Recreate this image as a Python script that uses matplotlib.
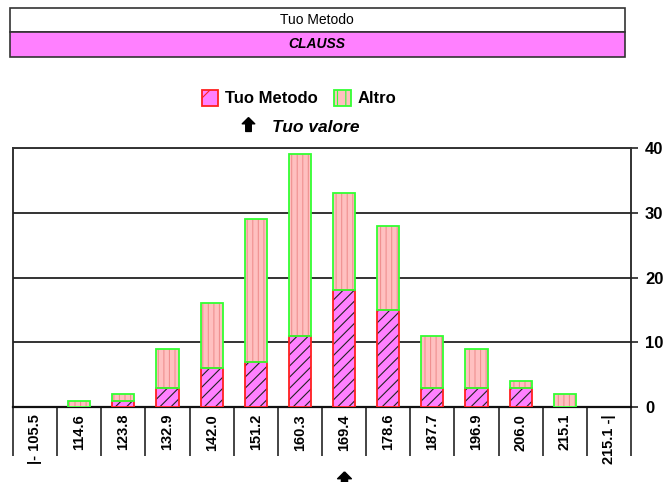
import matplotlib
matplotlib.use("Agg")
import matplotlib.pyplot as plt
from matplotlib.patches import Rectangle, Patch
from matplotlib.lines import Line2D
import numpy as np

plt.rcParams['font.family'] = ['Liberation Sans', 'DejaVu Sans']
plt.rcParams['hatch.linewidth'] = 0.8

categories = ["|- 105.5", "114.6", "123.8", "132.9", "142.0", "151.2", "160.3",
              "169.4", "178.6", "187.7", "196.9", "206.0", "215.1", "215.1 -|"]
tuo_metodo = [0, 0, 1, 3, 6, 7, 11, 18, 15, 3, 3, 3, 0, 0]
totale = [0, 1, 2, 9, 16, 29, 39, 33, 28, 11, 9, 4, 2, 0]
altro = [t - m for t, m in zip(totale, tuo_metodo)]
tuo_valore_idx = categories.index("169.4")
title_rows = ["Tuo Metodo", "CLAUSS"]
yticks = [0, 10, 20, 30, 40]

W, H = 672, 482
fig = plt.figure(figsize=(W / 100, H / 100), dpi=100)

def fx(px):
    return px / W

def fy(py):
    return 1 - py / H

# Title boxes
fig.patches.append(Rectangle((fx(10), fy(32)), fx(615), 24 / H, transform=fig.transFigure,
                             facecolor='white', edgecolor='#333333', lw=1.2))
fig.patches.append(Rectangle((fx(10), fy(57)), fx(615), 25 / H, transform=fig.transFigure,
                             facecolor='#FF80FF', edgecolor='#333333', lw=1.2))
fig.text(fx(317), fy(19.5), title_rows[0], ha='center', va='center', fontsize=10)
fig.text(fx(317), fy(44.5), title_rows[1], ha='center', va='center', fontsize=10,
         fontweight='bold', fontstyle='italic')

ax = fig.add_axes([fx(13), fy(407), fx(631 - 13), (407 - 148) / H])
x = np.arange(len(categories))
bw = 0.5

def edges(vals, col):
    return [col if v > 0 else 'none' for v in vals]

# Tuo Metodo bars: fill + hatch, then red edges
ax.bar(x, tuo_metodo, bw, color='#FF80FF', edgecolor='#222222', hatch='///', lw=0, zorder=3)
ax.bar(x, tuo_metodo, bw, fill=False, edgecolor=edges(tuo_metodo, '#FF2020'), lw=1.3, zorder=4)
# Altro bars stacked
ax.bar(x, altro, bw, bottom=tuo_metodo, color='#FFC0C0', edgecolor='#F09090', hatch='|||',
       lw=0, zorder=3)
ax.bar(x, altro, bw, bottom=tuo_metodo, fill=False, edgecolor=edges(altro, '#33FF33'),
       lw=1.3, zorder=4)

ax.set_xlim(-0.5, len(categories) - 0.5)
ax.set_ylim(0, 40)

# Y axis on right
ax.yaxis.tick_right()
ax.set_yticks(yticks)
ax.set_yticklabels([str(v) for v in yticks], fontweight='bold', fontsize=12)
ax.tick_params(axis='y', direction='out', length=5, width=1.2, color='#222222', pad=5)
ax.grid(axis='y', color='#333333', lw=1.4, zorder=1)

# X axis: separators as major ticks, labels as minor ticks
ax.set_xticks(np.arange(len(categories) + 1) - 0.5)
ax.set_xticklabels([])
ax.tick_params(axis='x', which='major', direction='out', length=35, width=1.1, color='#111111')
ax.set_xticks(x, minor=True)
ax.set_xticklabels(categories, minor=True, rotation=90, fontweight='bold', fontsize=10.5)
ax.tick_params(axis='x', which='minor', length=0, pad=5)

for s in ['left', 'right']:
    ax.spines[s].set_color('#222222')
    ax.spines[s].set_linewidth(1.3)
ax.spines['top'].set_color('#333333')
ax.spines['top'].set_linewidth(1.4)
ax.spines['bottom'].set_color('#111111')
ax.spines['bottom'].set_linewidth(1.6)

# Legend
handles = [Patch(facecolor='#FF80FF', edgecolor='#FF2020', hatch='/', lw=1.3),
           Patch(facecolor='#FFC0C0', edgecolor='#33FF33', hatch='||', lw=1.3)]
leg = fig.legend(handles, ['Tuo Metodo', 'Altro'], loc='center', ncol=2,
                 bbox_to_anchor=(fx(299), fy(98)), frameon=False, handlelength=1.0,
                 handleheight=1.1, handletextpad=0.4, columnspacing=1.0,
                 prop={'weight': 'bold', 'size': 12})

arrow_verts = [(0, 1), (-0.9, 0.1), (-0.4, 0.1), (-0.4, -1), (0.4, -1), (0.4, 0.1), (0.9, 0.1), (0, 1)]
fig.add_artist(Line2D([fx(248)], [fy(124)], marker=arrow_verts, markersize=10, color='black',
                      linestyle='none', transform=fig.transFigure))
fig.text(fx(272), fy(127), "Tuo valore", ha='left', va='center', fontsize=12.5,
         fontweight='bold', fontstyle='italic')

# Arrow below the axis at Tuo valore
xd = ax.transData.transform((tuo_valore_idx, 0))[0]
fig.add_artist(Line2D([xd / W], [fy(479)], marker=arrow_verts, markersize=11, color='black',
                      linestyle='none', transform=fig.transFigure))

fig.savefig('out.png', dpi=100)
